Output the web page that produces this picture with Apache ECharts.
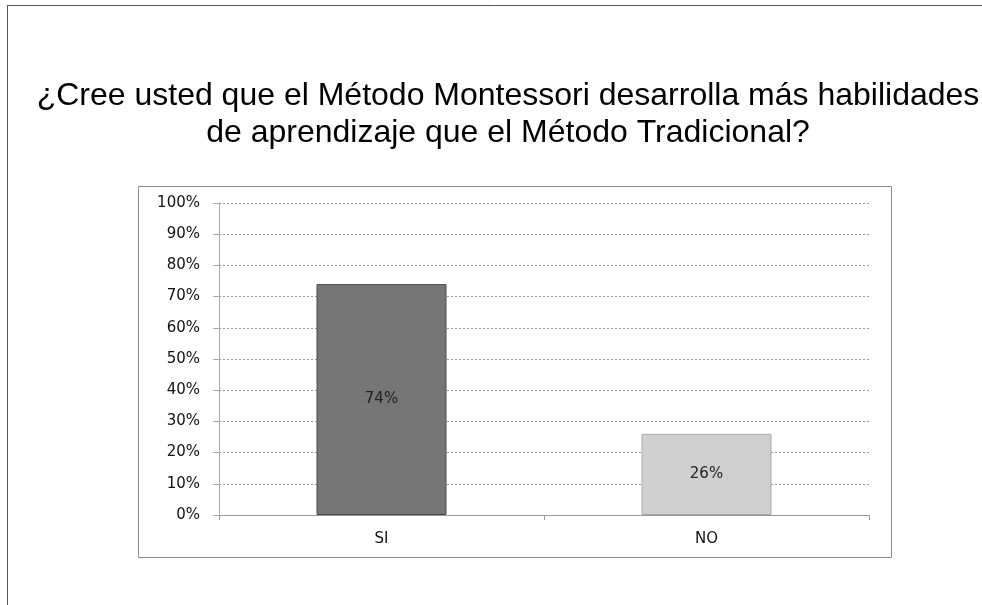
<!DOCTYPE html>
<html>
<head>
<meta charset="utf-8">
<script src="https://cdn.jsdelivr.net/npm/echarts@6/dist/echarts.min.js"></script>
<style>
html,body{margin:0;padding:0;background:#fff;}
#main{width:982px;height:605px;}
</style>
</head>
<body>
<div id="main"></div>
<script>
var titleText = '¿Cree usted que el Método Montessori desarrolla más habilidades\nde aprendizaje que el Método Tradicional?';
var categories = ['SI', 'NO'];
var values = [74, 26];
var barColors = ['#767676', '#cfcfcf'];
var barBorders = ['#4a4a4a', '#a8a8a8'];
var yTicks = [0, 10, 20, 30, 40, 50, 60, 70, 80, 90, 100];

var chart = echarts.init(document.getElementById('main'));
chart.setOption({
  backgroundColor: '#ffffff',
  animation: false,
  title: {
    text: titleText,
    left: 503,
    top: 73,
    textAlign: 'center',
    textStyle: {
      fontFamily: 'Liberation Sans, Arial, sans-serif',
      fontSize: 32,
      fontWeight: 'normal',
      color: '#000',
      lineHeight: 37,
      align: 'center'
    }
  },
  graphic: [
    { type: 'line', shape: { x1: 7.5, y1: 5, x2: 7.5, y2: 605 }, style: { stroke: '#555', lineWidth: 1 } },
    { type: 'line', shape: { x1: 7, y1: 5.5, x2: 982, y2: 5.5 }, style: { stroke: '#555', lineWidth: 1 } },
    { type: 'rect', shape: { x: 138.5, y: 186.5, width: 753, height: 371 }, style: { fill: 'none', stroke: '#8a8a8a', lineWidth: 1 }, z: 0 }
  ],
  grid: { left: 219, right: 113, top: 203, bottom: 90, containLabel: false },
  xAxis: {
    type: 'category',
    data: categories,
    axisLine: { show: true, lineStyle: { color: '#999', width: 1 } },
    axisTick: { show: true, length: 5, lineStyle: { color: '#999' } },
    axisLabel: { margin: 17, fontFamily: 'DejaVu Sans, Verdana, sans-serif', fontSize: 15, color: '#111' }
  },
  yAxis: {
    type: 'value',
    min: 0,
    max: 100,
    interval: 10,
    axisLine: { show: true, lineStyle: { color: '#aaa', width: 1 } },
    axisTick: { show: true, length: 6, lineStyle: { color: '#aaa' } },
    splitLine: { show: true, lineStyle: { color: '#999', type: [2, 2], width: 1 } },
    axisLabel: {
      margin: 19,
      fontFamily: 'DejaVu Sans, Verdana, sans-serif',
      fontSize: 15,
      color: '#111',
      formatter: function (v) { return yTicks.indexOf(v) >= 0 ? v + '%' : ''; }
    }
  },
  series: [{
    type: 'bar',
    barWidth: '40%',
    data: values.map(function (v, i) {
      return { value: v, itemStyle: { color: barColors[i], borderColor: barBorders[i], borderWidth: 1 } };
    }),
    label: {
      show: true,
      position: 'inside',
      formatter: '{c}%',
      fontFamily: 'DejaVu Sans, Verdana, sans-serif',
      fontSize: 15,
      color: '#222'
    }
  }]
});
</script>
</body>
</html>
